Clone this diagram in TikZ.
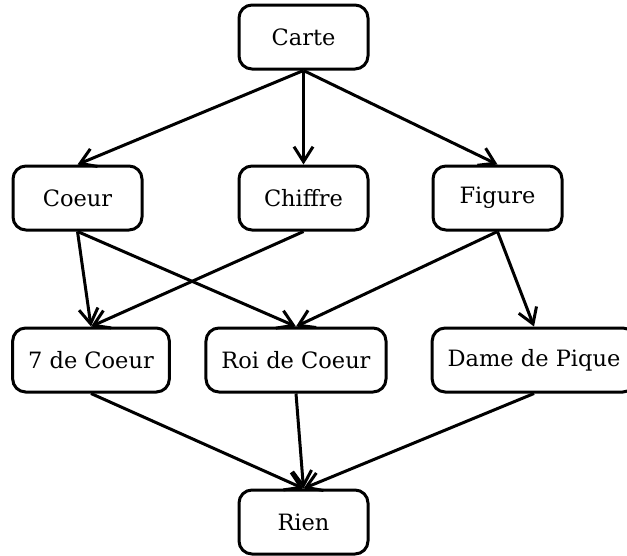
\documentclass[tikz,border=0pt]{standalone}
\usepackage{fontspec}
\setmainfont{DejaVu Serif}
\usetikzlibrary{arrows.meta}
\begin{document}
\begin{tikzpicture}[x=1pt,y=-1pt,
  box/.style={draw=black, line width=3pt, rounded corners=13pt, fill=white,
    minimum width=129pt, minimum height=64pt, inner xsep=15.5pt,
    font=\fontsize{22.5}{27}\selectfont, text=black},
  link/.style={line width=3pt,
    -{Straight Barb[length=15pt,width=19pt,line width=3pt]}}]
  \useasboundingbox (0,0) rectangle (627,555);
  \clip (0,0) rectangle (627,555);
  \node[box] (carte)   at (303.5,37)  {Carte};
  \node[box] (coeur)   at (77.5,198)  {Coeur};
  \node[box] (chiffre) at (303.5,198) {Chiffre};
  \node[box] (figure)  at (497.5,198) {Figure};
  \node[box] (sept)    at (91,360)    {7 de Coeur};
  \node[box] (roi)     at (296,360)   {Roi de Coeur};
  \node[box] (dame)    at (534,360)   {Dame de Pique};
  \node[box] (rien)    at (303.5,522) {Rien};
  \draw[link] (carte.south) -- (coeur.north);
  \draw[link] (carte.south) -- (chiffre.north);
  \draw[link] (carte.south) -- (figure.north);
  \draw[link] (coeur.south) -- (sept.north);
  \draw[link] (coeur.south) -- (roi.north);
  \draw[link] (chiffre.south) -- (sept.north);
  \draw[link] (figure.south) -- (roi.north);
  \draw[link] (figure.south) -- (dame.north);
  \draw[link] (sept.south) -- (rien.north);
  \draw[link] (roi.south) -- (rien.north);
  \draw[link] (dame.south) -- (rien.north);
\end{tikzpicture}
\end{document}
